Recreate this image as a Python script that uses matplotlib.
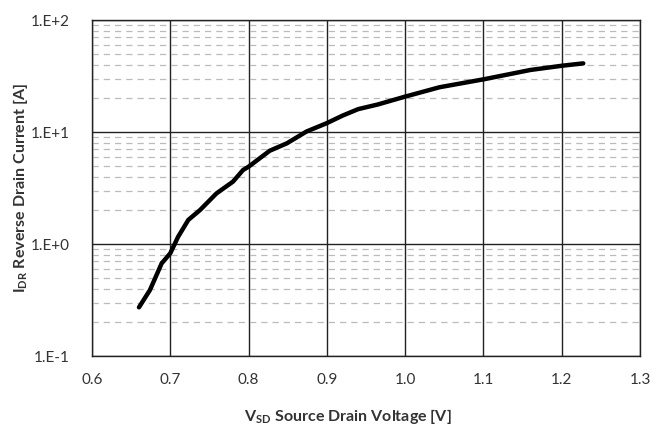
import matplotlib
matplotlib.use("Agg")
import matplotlib.pyplot as plt
from matplotlib.ticker import FixedLocator, FixedFormatter, LogLocator, NullFormatter

plt.rcParams['font.family'] = ['Lato', 'DejaVu Sans']

vsd = [0.660, 0.674, 0.689, 0.700, 0.710, 0.723, 0.738, 0.759, 0.780, 0.793,
       0.800, 0.827, 0.849, 0.874, 0.900, 0.920, 0.940, 0.965, 1.000, 1.044,
       1.102, 1.160, 1.201, 1.2275]
idr = [0.272, 0.388, 0.672, 0.826, 1.16, 1.64, 2.01, 2.83, 3.6, 4.58,
       4.9, 6.8, 7.93, 10.1, 12.0, 14.0, 16.0, 17.6, 20.7, 25.1,
       29.7, 35.8, 39.1, 41.0]

xticks = [0.6, 0.7, 0.8, 0.9, 1.0, 1.1, 1.2, 1.3]
xticklabels = ["0.6", "0.7", "0.8", "0.9", "1.0", "1.1", "1.2", "1.3"]
yticks = [0.1, 1, 10, 100]
yticklabels = ["1.E-1", "1.E+0", "1.E+1", "1.E+2"]

fig = plt.figure(figsize=(6.63, 4.25), dpi=100)
ax = fig.add_axes([92/663, 1 - 356/425, (640-92)/663, (356-20)/425])

ax.set_yscale('log')
ax.set_xlim(0.6, 1.3)
ax.set_ylim(0.1, 100)

ax.xaxis.set_major_locator(FixedLocator(xticks))
ax.xaxis.set_major_formatter(FixedFormatter(xticklabels))
ax.yaxis.set_major_locator(FixedLocator(yticks))
ax.yaxis.set_major_formatter(FixedFormatter(yticklabels))
ax.yaxis.set_minor_locator(LogLocator(base=10, subs=range(2, 10)))
ax.yaxis.set_minor_formatter(NullFormatter())

ax.grid(True, which='major', axis='both', color='#222222', linewidth=1.0)
ax.grid(True, which='minor', axis='y', color='#bbbbbb', linewidth=0.9, linestyle=(0, (5, 4)))
ax.set_axisbelow(True)

ax.plot(vsd, idr, color='black', linewidth=3.2, solid_capstyle='round', solid_joinstyle='round')

for s in ax.spines.values():
    s.set_color('#222222')
    s.set_linewidth(1.0)

ax.tick_params(which='both', length=0, labelsize=11, colors='#333333', pad=12)
ax.tick_params(axis='y', pad=16)

ax.set_xlabel(r"V$_{\mathregular{SD}}$ Source Drain Voltage [V]", fontsize=11.5,
              fontweight='bold', color='#333333')
ax.set_ylabel(r"I$_{\mathregular{DR}}$ Reverse Drain Current [A]", fontsize=11.5,
              fontweight='bold', color='#333333')
ax.xaxis.set_label_coords((348 - 92) / 548, -(416 - 356) / 336)
ax.yaxis.set_label_coords((20 - 92) / 548, 0.5)
ax.xaxis.label.set_va('center')
ax.yaxis.label.set_va('center')

fig.savefig("out.png", dpi=100, facecolor='white')
